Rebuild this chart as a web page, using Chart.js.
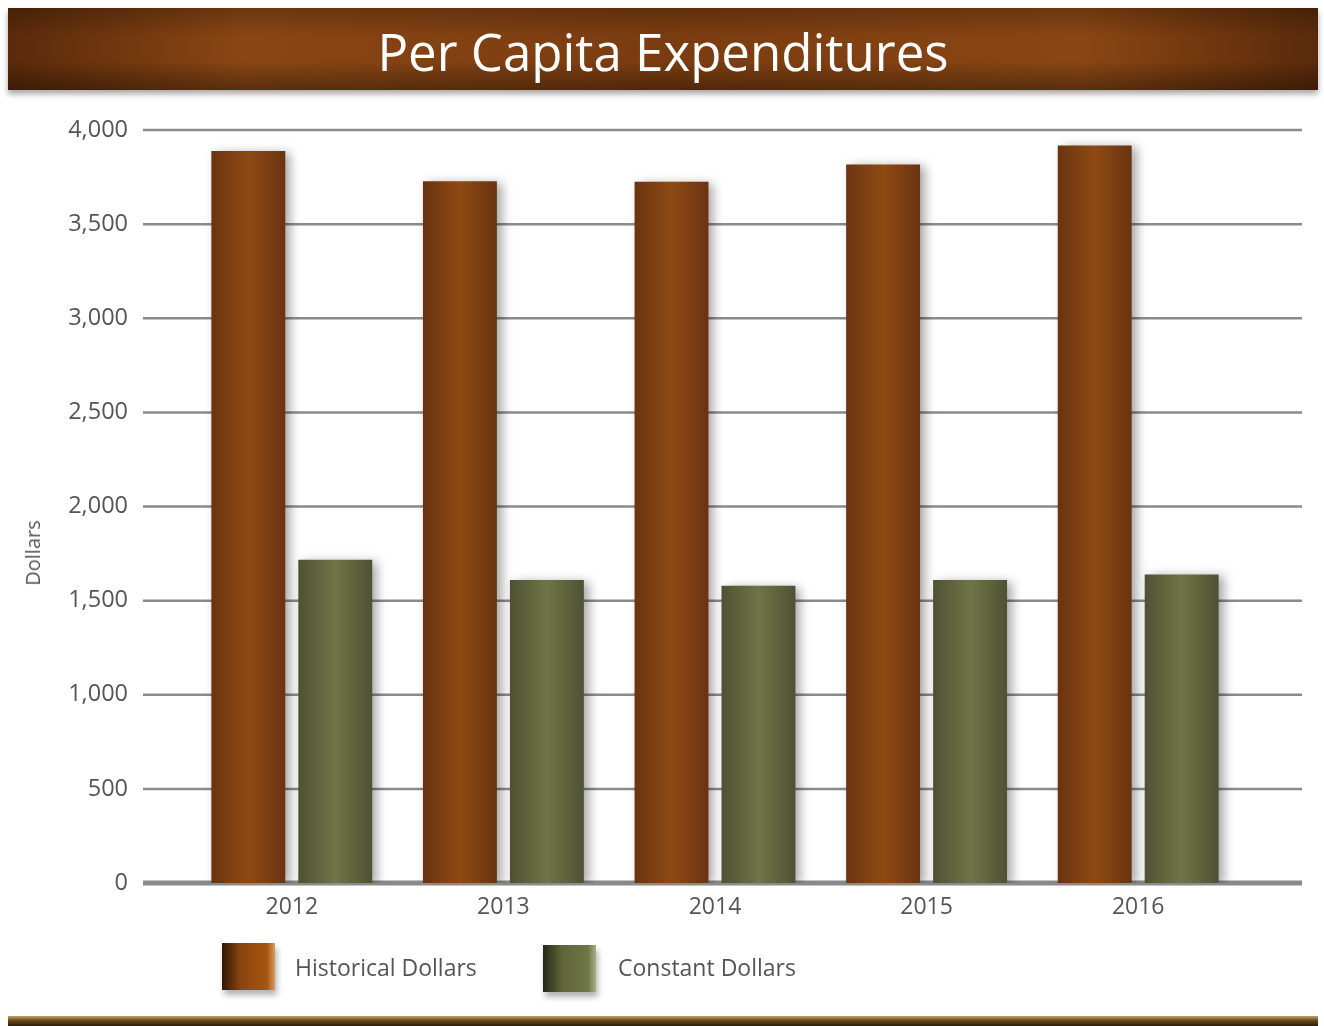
<!DOCTYPE html>
<html>
<head>
<meta charset="utf-8">
<script src="https://cdn.jsdelivr.net/npm/chart.js@4.4.0/dist/chart.umd.min.js"></script>
<style>
    html, body { margin: 0; padding: 0; background: #fff; }
    .page { position: relative; width: 1324px; height: 1026px; overflow: hidden; font-family: "Open Sans", sans-serif; }
    .graph { position: absolute; left: 0; top: 0; width: 1324px; height: 1026px; }
    .banner {
        position: absolute; left: 8px; top: 8px; width: 1310px; height: 82px;
        background:
            linear-gradient(to bottom, rgba(0,0,0,0.22), rgba(0,0,0,0) 35%, rgba(0,0,0,0) 65%, rgba(0,0,0,0.35)),
            linear-gradient(to right, #5a2a0a, #8a4614 18%, #7a3c10 50%, #8a4614 82%, #5a2a0a);
        box-shadow: 0 4px 6px rgba(0,0,0,0.35);
        color: #fff; text-align: center; font-size: 51px; line-height: 86px;
    }
    .footer {
        position: absolute; left: 8px; top: 1016px; width: 1310px; height: 10px;
        background: linear-gradient(to bottom, #c4a468, #6a4c1c 45%, #2a1c08);
    }
    .ytitle {
        position: absolute; left: 33px; top: 553px; font-size: 20px; color: #555;
        transform: translate(-50%, -50%) rotate(-90deg); white-space: nowrap; line-height: 24px;
    }
    .key { position: absolute; width: 53px; height: 47px; box-shadow: 2px 5px 6px rgba(0,0,0,0.3); }
    .key.hist { left: 222px; top: 943px; background: linear-gradient(to right, #2e1806, #8a4410 35%, #a8560f 85%, #d89a60); }
    .key.const { left: 543px; top: 945px; background: linear-gradient(to right, #262818, #5e6438 35%, #6e7645 85%, #aab088); }
    .key-label { position: absolute; font-size: 23px; color: #555; line-height: 30px; }
</style>
</head>
<body>
<div class="page">
    <div class="graph"><canvas id="chart"></canvas></div>
    <div class="banner">Per Capita Expenditures</div>
    <div class="ytitle">Dollars</div>
    <div class="key hist"></div>
    <div class="key-label" style="left:295px; top:952px;">Historical Dollars</div>
    <div class="key const"></div>
    <div class="key-label" style="left:618px; top:952px;">Constant Dollars</div>
    <div class="footer"></div>
</div>
<script>
let years = ["2012", "2013", "2014", "2015", "2016"];
let historical = [3888, 3728, 3725, 3817, 3918];
let constant = [1717, 1609, 1579, 1609, 1639];
let yTicks = [0, 500, 1000, 1500, 2000, 2500, 3000, 3500, 4000];

const CAT_PCT = 0.822, BAR_PCT = 0.85;

// horizontal shading across each bar, computed from the x scale
function barFill(ctx, dark, light) {
    let chart = ctx.chart, xs = chart.scales.x;
    if (!xs || ctx.type !== "data" || !isFinite(xs.width) || !xs.width) return light;
    let slot = xs.width / years.length * CAT_PCT / 2;
    let cx = xs.getPixelForValue(ctx.dataIndex) + (ctx.datasetIndex - 0.5) * slot;
    let half = slot * BAR_PCT / 2;
    if (!isFinite(cx)) return light;
    let g = chart.ctx.createLinearGradient(cx - half, 0, cx + half, 0);
    g.addColorStop(0, dark);
    g.addColorStop(0.5, light);
    g.addColorStop(1, dark);
    return g;
}

// grid lines run past the plot area on both sides
const extGrid = {
    id: "extGrid",
    beforeDatasetsDraw(chart) {
        let c = chart.ctx, ys = chart.scales.y, a = chart.chartArea;
        c.save();
        yTicks.forEach(v => {
            let y = ys.getPixelForValue(v);
            c.beginPath();
            c.strokeStyle = "#8a8a8a";
            c.lineWidth = v === 0 ? 5 : 2.5;
            c.moveTo(a.left - 43, y);
            c.lineTo(a.right + 58, y);
            c.stroke();
        });
        c.restore();
    }
};

const barShadow = {
    id: "barShadow",
    beforeDatasetDraw(chart) {
        let c = chart.ctx;
        c.save();
        c.shadowColor = "rgba(0,0,0,0.35)";
        c.shadowBlur = 10;
        c.shadowOffsetX = 5;
        c.shadowOffsetY = 2;
    },
    afterDatasetDraw(chart) {
        chart.ctx.restore();
    }
};

let chart = new Chart(document.getElementById("chart"), {
    type: "bar",
    data: {
        labels: years,
        datasets: [{
            label: "Historical Dollars",
            data: historical,
            backgroundColor: ctx => barFill(ctx, "#6a3410", "#8f4a14"),
        }, {
            label: "Constant Dollars",
            data: constant,
            backgroundColor: ctx => barFill(ctx, "#4e5234", "#6f7545"),
        }]
    },
    options: {
        responsive: true,
        maintainAspectRatio: false,
        animation: false,
        categoryPercentage: CAT_PCT,
        barPercentage: BAR_PCT,
        layout: { padding: { top: 130, right: 80, bottom: 106, left: 0 } },
        plugins: {
            legend: { display: false },
            title: { display: false },
            tooltip: { enabled: false },
        },
        scales: {
            x: {
                grid: { display: false, drawTicks: false },
                border: { display: false },
                ticks: { color: "#555", padding: 11, font: { family: "Open Sans", size: 23 } },
                afterFit: s => { s.height = 37; },
            },
            y: {
                min: 0,
                max: 4000,
                grid: { display: false, drawTicks: false },
                border: { display: false },
                ticks: {
                    stepSize: 500,
                    padding: 58,
                    color: "#555",
                    font: { family: "Open Sans", size: 23.5 },
                    callback: v => v.toLocaleString("en-US"),
                },
                afterFit: s => { s.width = 186; },
            }
        }
    },
    plugins: [extGrid, barShadow],
});
chart.update();
</script>
</body>
</html>
